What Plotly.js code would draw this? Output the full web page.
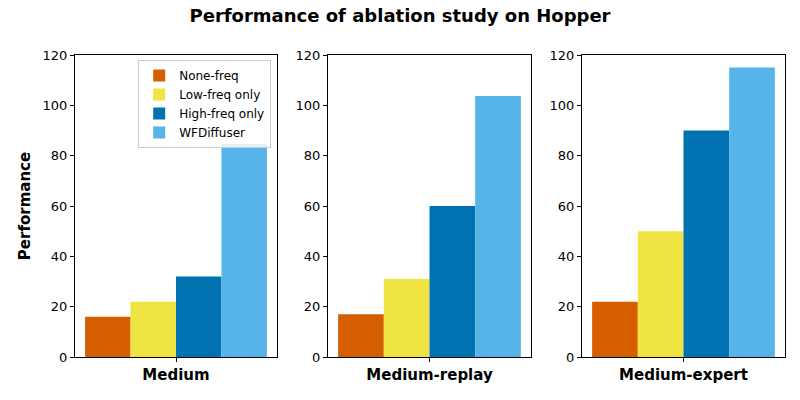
<!DOCTYPE html>
<html>
<head>
<meta charset="utf-8">
<script src="https://cdn.plot.ly/plotly-3.0.1.min.js"></script>
<style>html,body{margin:0;padding:0;background:#fff;}#chart{width:800px;height:400px;}</style>
</head>
<body>
<div id="chart"></div>
<script>
const datasets = ["Medium", "Medium-replay", "Medium-expert"];
const methods = ["None-freq", "Low-freq only", "High-freq only", "WFDiffuser"];
const noneFreq = [16, 17, 22];
const lowFreq = [22, 31, 50];
const highFreq = [32, 60, 90];
const wfDiffuser = [84.6, 103.7, 115];
const colors = ["#D55E00", "#F0E442", "#0072B2", "#56B4E9"];
const series = [noneFreq, lowFreq, highFreq, wfDiffuser];

const domainsX = [[0.09375, 0.34625], [0.41, 0.66375], [0.7275, 0.98125]];
const traces = [];
const layout = {
  width: 800, height: 400,
  margin: {l: 0, r: 0, t: 0, b: 0},
  paper_bgcolor: "#fff", plot_bgcolor: "#fff",
  barmode: "group", bargap: 0.2, bargroupgap: 0,
  font: {family: "DejaVu Sans", color: "#000", size: 13},
  showlegend: true,
  title: {text: "<b>Performance of ablation study on Hopper</b>", x: 0.5, xanchor: "center", y: 0.96, yanchor: "middle", font: {size: 18, family: "DejaVu Sans"}},
  legend: {x: 0.339, xanchor: "right", y: 0.85, yanchor: "top", bgcolor: "rgba(255,255,255,0.8)", bordercolor: "#cccccc", borderwidth: 1, font: {size: 12, family: "DejaVu Sans"}, tracegroupgap: 0, itemwidth: 30},
};

datasets.forEach((ds, i) => {
  const ax = i === 0 ? "" : String(i + 1);
  series.forEach((vals, j) => {
    traces.push({
      type: "bar",
      x: [ds], y: [vals[i]],
      name: methods[j],
      marker: {color: colors[j], line: {width: 0}},
      xaxis: "x" + ax, yaxis: "y" + ax,
      showlegend: i === 0,
      legendgroup: methods[j],
      hoverinfo: "none"
    });
  });
  layout["xaxis" + ax] = {
    domain: domainsX[i], anchor: "y" + ax,
    type: "category", range: [-0.4444, 0.4444],
    showline: true, mirror: true, linecolor: "#000", linewidth: 1,
    ticks: "outside", ticklen: 4, tickcolor: "#000",
    tickfont: {size: 15, family: "DejaVu Sans"},
    tickvals: [ds], ticktext: ["<b>" + ds + "</b>"],
    showgrid: false, zeroline: false, fixedrange: true
  };
  layout["yaxis" + ax] = {
    domain: [0.1075, 0.8625], anchor: "x" + ax,
    range: [0, 120], tickvals: [0, 20, 40, 60, 80, 100, 120],
    showline: true, mirror: true, linecolor: "#000", linewidth: 1,
    ticks: "outside", ticklen: 4, tickcolor: "#000",
    tickfont: {size: 13, family: "DejaVu Sans"},
    showgrid: false, zeroline: false, fixedrange: true,
    title: i === 0 ? {text: "<b>Performance</b>", font: {size: 15, family: "DejaVu Sans"}, standoff: 8} : {text: ""}
  };
});

Plotly.newPlot("chart", traces, layout, {displayModeBar: false, staticPlot: true});
</script>
</body>
</html>
